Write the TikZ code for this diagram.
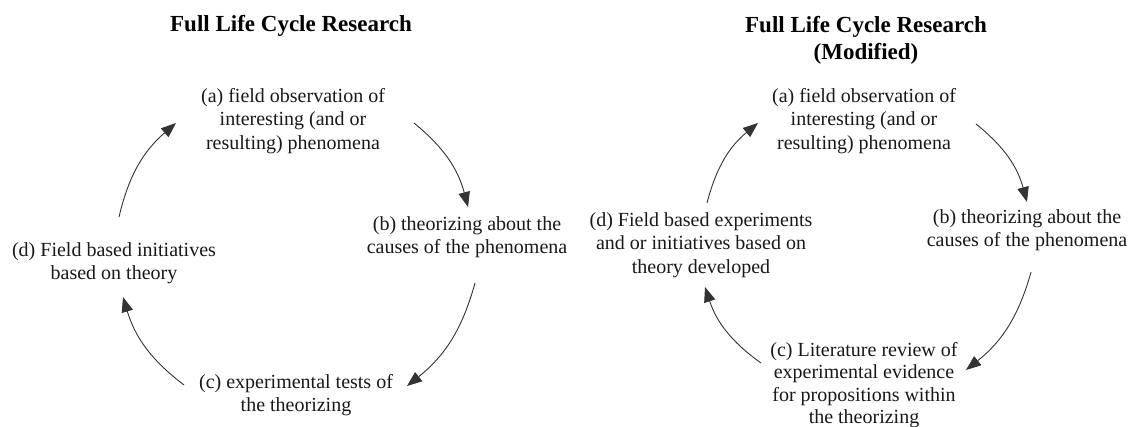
\documentclass[tikz,border=0pt]{standalone}
\usepackage{fontspec}
\setmainfont{Liberation Serif}
\usetikzlibrary{arrows.meta}
\begin{document}
\begin{tikzpicture}[x=1pt,y=-1pt,
  lbl/.style={align=center,font=\fontsize{20}{23.5}\selectfont,inner sep=0pt,text=black!90},
  ttl/.style={align=center,font=\fontsize{23}{27}\selectfont\bfseries,inner sep=0pt},
  cyc/.style={-{Triangle[length=15pt,width=11.5pt]},line width=0.9pt,draw=black!80}]
\fill[white] (0,0) rectangle (1130,427);
\useasboundingbox (0,0) rectangle (1130,427);
% left diagram
\node[ttl] (t1) at (291,26) {Full Life Cycle Research};
\node[lbl] (a1) at (293,121) {(a) field observation of\\interesting (and or\\resulting) phenomena};
\node[lbl] (b1) at (467,237) {(b) theorizing about the\\causes of the phenomena};
\node[lbl] (c1) at (296,395) {(c) experimental tests of\\the theorizing};
\node[lbl] (d1) at (114,263) {(d) Field based initiatives\\based on theory};
\coordinate (a1o) at (414,123);
\coordinate (b1i) at (468,207);
\coordinate (b1o) at (475,283);
\coordinate (c1i) at (407,386);
\coordinate (c1o) at (184,385);
\coordinate (d1i) at (123,297);
\coordinate (d1o) at (119,217);
\coordinate (a1i) at (176,123);
\draw[cyc] (a1o) to[bend left=18] (b1i);
\draw[cyc] (b1o) to[bend left=18] (c1i);
\draw[cyc] (c1o) to[bend left=18] (d1i);
\draw[cyc] (d1o) to[bend left=18] (a1i);
% right diagram
\node[ttl] (t2) at (866,40) {Full Life Cycle Research\\(Modified)};
\node[lbl] (a2) at (864,121) {(a) field observation of\\interesting (and or\\resulting) phenomena};
\node[lbl] (b2) at (1027,230) {(b) theorizing about the\\causes of the phenomena};
\node[lbl,font=\fontsize{20}{22.5}\selectfont] (c2) at (864,385) {(c) Literature review of\\experimental evidence\\for propositions within\\the theorizing};
\node[lbl] (d2) at (701,245) {(d) Field based experiments\\and or initiatives based on\\theory developed};
\coordinate (a2o) at (976,124);
\coordinate (b2i) at (1027,202);
\coordinate (b2o) at (1031,272);
\coordinate (c2i) at (966,370);
\coordinate (c2o) at (761,363);
\coordinate (d2i) at (705,287);
\coordinate (d2o) at (707,203);
\coordinate (a2i) at (758,123);
\draw[cyc] (a2o) to[bend left=18] (b2i);
\draw[cyc] (b2o) to[bend left=18] (c2i);
\draw[cyc] (c2o) to[bend left=18] (d2i);
\draw[cyc] (d2o) to[bend left=18] (a2i);
\end{tikzpicture}
\end{document}
